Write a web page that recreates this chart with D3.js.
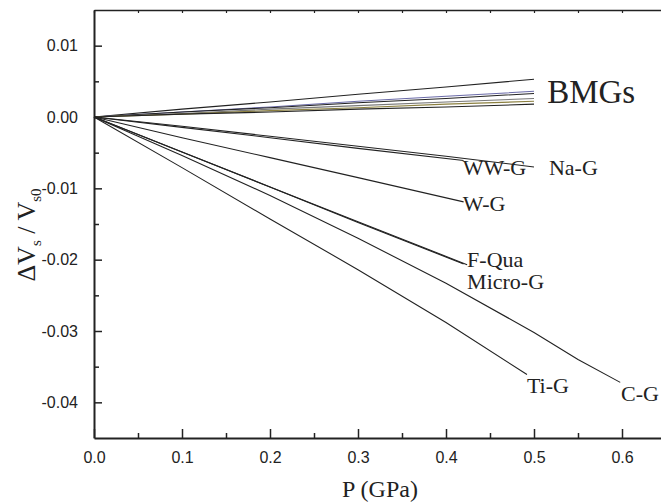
<html>
<head>
<meta charset="utf-8">
<script src="https://d3js.org/d3.v7.min.js"></script>
<style>
body { margin: 0; background: #fff; }
.tick text { font-family: "Liberation Sans", Arial, sans-serif; font-size: 16px; fill: #222; }
.lbl { font-family: "Liberation Serif", "Times New Roman", serif; fill: #222; }
</style>
</head>
<body>
<script>

// BMG curves, all at the same pressures
var bmgP = [0, 0.1, 0.2, 0.3, 0.4, 0.5];
var bmgValues = [
  [0, 0.0011, 0.0021, 0.0032, 0.0042, 0.0053],
  [0, 0.0007, 0.0014, 0.0022, 0.0029, 0.0036],
  [0, 0.0007, 0.0013, 0.0020, 0.0026, 0.0033],
  [0, 0.0005, 0.0011, 0.0016, 0.0021, 0.0026],
  [0, 0.0004, 0.0009, 0.0013, 0.0018, 0.0022],
  [0, 0.0004, 0.0007, 0.0011, 0.0014, 0.0018]
];

// other glasses
var glassNames = ["WW-G", "Na-G", "W-G", "F-Qua", "Micro-G", "C-G", "Ti-G"];
var glassP = [
  [0, 0.1, 0.2, 0.3, 0.42],
  [0, 0.1, 0.2, 0.3, 0.4, 0.5],
  [0, 0.1, 0.2, 0.3, 0.42],
  [0, 0.1, 0.2, 0.3, 0.424],
  [0, 0.1, 0.2, 0.3, 0.42],
  [0, 0.1, 0.2, 0.3, 0.4, 0.5, 0.55, 0.598],
  [0, 0.1, 0.2, 0.3, 0.4, 0.492]
];
var glassValues = [
  [0, -0.00145, -0.0029, -0.0044, -0.0061],
  [0, -0.0013, -0.0027, -0.0041, -0.0055, -0.0070],
  [0, -0.0029, -0.0057, -0.0085, -0.0119],
  [0, -0.0049, -0.0098, -0.0147, -0.0207],
  [0, -0.0049, -0.0098, -0.0148, -0.0206],
  [0, -0.0054, -0.0110, -0.0170, -0.0233, -0.0302, -0.0340, -0.0372],
  [0, -0.0071, -0.0143, -0.0214, -0.0288, -0.0361]
];

var xTicks = [0, 0.1, 0.2, 0.3, 0.4, 0.5, 0.6];
var yTicks = [0.01, 0.00, -0.01, -0.02, -0.03, -0.04];

var width = 661, height = 502;
var mLeft = 94, mTop = 10, mBottom = 438;

var x = d3.scaleLinear().domain([0, 0.65]).range([mLeft, mLeft + 0.65 * 880]);
var y = d3.scaleLinear().domain([-0.045, 0.015]).range([mBottom, mTop]);

var svg = d3.select("body").append("svg")
    .attr("width", width)
    .attr("height", height);

var line = d3.line()
    .x(function(d) { return x(d[0]); })
    .y(function(d) { return y(d[1]); });

// colours of the BMG lines (one bluish, one olive like the scan)
var bmgColors = ["#222", "#6a6aa8", "#222", "#777", "#8c8040", "#222"];

bmgValues.forEach(function(vals, i) {
  svg.append("path")
      .datum(vals.map(function(v, j) { return [bmgP[j], v]; }))
      .attr("fill", "none")
      .attr("stroke", bmgColors[i])
      .attr("stroke-width", 1.1)
      .attr("d", line);
});

glassValues.forEach(function(vals, i) {
  svg.append("path")
      .datum(vals.map(function(v, j) { return [glassP[i][j], v]; }))
      .attr("fill", "none")
      .attr("stroke", "#222")
      .attr("stroke-width", 1.1)
      .attr("d", line);
});

// axes, ticks pointing inwards
var minorX = [0.05, 0.15, 0.25, 0.35, 0.45, 0.55];
var minorY = [0.005, -0.005, -0.015, -0.025, -0.035];
var fmtY = function(d) { return d3.format(".2f")(d).replace("\u2212", "-"); };

svg.append("g")
    .attr("transform", "translate(0," + mBottom + ")")
    .call(d3.axisBottom(x).tickValues(xTicks).tickFormat(d3.format(".1f"))
      .tickSizeInner(-9).tickSizeOuter(0).tickPadding(14))
    .call(function(g) {
      g.select(".domain").attr("stroke", "#222").attr("stroke-width", 2);
      g.selectAll(".tick line").attr("stroke", "#222").attr("stroke-width", 1.5);
    });

svg.append("g")
    .attr("transform", "translate(0," + mBottom + ")")
    .call(d3.axisBottom(x).tickValues(minorX).tickFormat("").tickSizeInner(-5).tickSizeOuter(0))
    .call(function(g) {
      g.select(".domain").remove();
      g.selectAll(".tick line").attr("stroke", "#222").attr("stroke-width", 1.5);
    });

svg.append("g")
    .attr("transform", "translate(" + mLeft + ",0)")
    .call(d3.axisLeft(y).tickValues(yTicks).tickFormat(fmtY)
      .tickSizeInner(-8).tickSizeOuter(0).tickPadding(16))
    .call(function(g) {
      g.select(".domain").attr("stroke", "#222").attr("stroke-width", 2);
      g.selectAll(".tick line").attr("stroke", "#222").attr("stroke-width", 1.5);
    });

svg.append("g")
    .attr("transform", "translate(" + mLeft + ",0)")
    .call(d3.axisLeft(y).tickValues(minorY).tickFormat("").tickSizeInner(-5).tickSizeOuter(0))
    .call(function(g) {
      g.select(".domain").remove();
      g.selectAll(".tick line").attr("stroke", "#222").attr("stroke-width", 1.5);
    });

// top frame
svg.append("g")
    .attr("transform", "translate(0," + mTop + ")")
    .call(d3.axisTop(x).tickValues(xTicks.concat(minorX)).tickFormat("").tickSizeInner(-3).tickSizeOuter(0))
    .call(function(g) {
      g.select(".domain").attr("stroke", "#222").attr("stroke-width", 1.5);
      g.selectAll(".tick line").attr("stroke", "#222").attr("stroke-width", 1.2);
    });

// curve labels, placed in data units
var labels = [
  ["BMGs", 0.515, 0.00196, 33],
  ["WW-G", 0.419, -0.00813, 22],
  ["Na-G", 0.517, -0.00813, 22],
  ["W-G", 0.419, -0.01318, 22],
  ["F-Qua", 0.424, -0.02103, 22],
  ["Micro-G", 0.424, -0.02411, 22],
  ["Ti-G", 0.492, -0.03869, 22],
  ["C-G", 0.599, -0.03981, 22]
];

labels.forEach(function(l) {
  svg.append("text")
      .attr("class", "lbl")
      .attr("x", x(l[1]))
      .attr("y", y(l[2]))
      .style("font-size", l[3] + "px")
      .text(l[0]);
});

// axis titles
svg.append("text")
    .attr("class", "lbl")
    .attr("x", 380)
    .attr("y", 497)
    .attr("text-anchor", "middle")
    .style("font-size", "24px")
    .text("P (GPa)");

var yt = svg.append("text")
    .attr("class", "lbl")
    .attr("transform", "translate(35,235) rotate(-90)")
    .attr("text-anchor", "middle")
    .style("font-size", "26px");
yt.append("tspan").text("\u0394V");
yt.append("tspan").attr("dy", 6).style("font-size", "15px").text("s");
yt.append("tspan").attr("dy", -6).text(" / V");
yt.append("tspan").attr("dy", 6).style("font-size", "15px").text("s0");

</script>
</body>
</html>
